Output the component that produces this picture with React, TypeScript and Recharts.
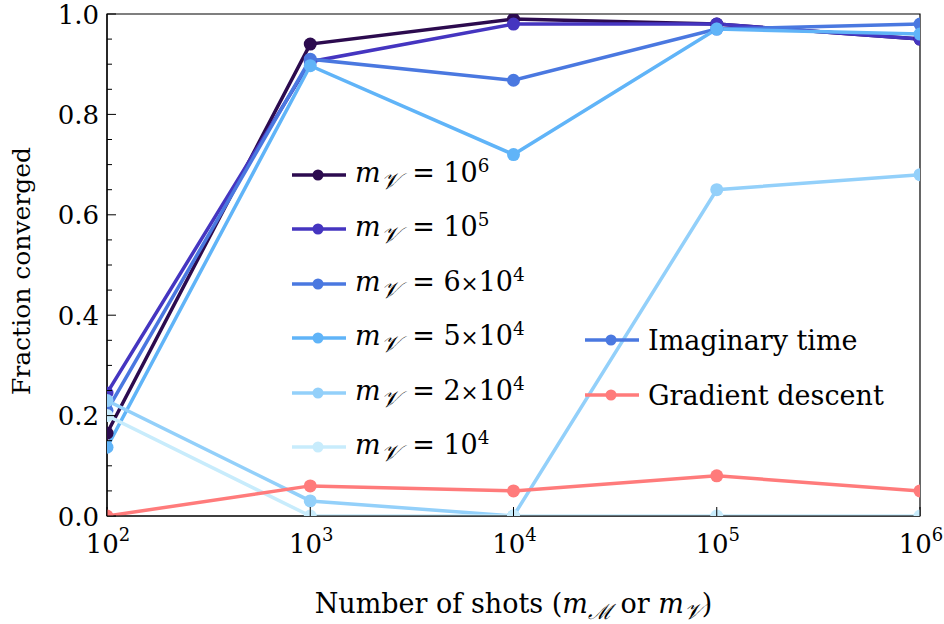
import React from "react";
import { LineChart, Line, XAxis, YAxis, ReferenceArea } from "recharts";

// shot counts on the x axis (log scale)
const SHOTS = [1e2, 1e3, 1e4, 1e5, 1e6];
const X_TICK_EXP = [2, 3, 4, 5, 6];

// fraction of runs that converged, imaginary-time evolution per m_V
const FRAC_MV_1E6 = [0.165, 0.94, 0.99, 0.98, 0.95];
const FRAC_MV_1E5 = [0.245, 0.905, 0.98, 0.98, 0.95];
const FRAC_MV_6E4 = [0.21, 0.91, 0.868, 0.97, 0.98];
const FRAC_MV_5E4 = [0.137, 0.897, 0.72, 0.97, 0.96];
const FRAC_MV_2E4 = [0.23, 0.03, 0.0, 0.65, 0.68];
const FRAC_MV_1E4 = [0.2, 0.0, 0.0, 0.0, 0.0];
// gradient descent baseline
const FRAC_GD = [0.0, 0.06, 0.05, 0.08, 0.05];

const Y_TICKS = [
  0, 0.05, 0.1, 0.15, 0.2, 0.25, 0.3, 0.35, 0.4, 0.45, 0.5,
  0.55, 0.6, 0.65, 0.7, 0.75, 0.8, 0.85, 0.9, 0.95, 1.0,
];

const MV_MANTISSA = ["", "", "6", "5", "2", ""];
const MV_EXPONENT = [6, 5, 4, 4, 4, 4];

const SERIES = [
  { key: "mv1e6", values: FRAC_MV_1E6, color: "#2c0b4f" },
  { key: "mv1e5", values: FRAC_MV_1E5, color: "#4535c0" },
  { key: "mv6e4", values: FRAC_MV_6E4, color: "#4a78e0" },
  { key: "mv5e4", values: FRAC_MV_5E4, color: "#60b4f8" },
  { key: "mv2e4", values: FRAC_MV_2E4, color: "#93d0fa" },
  { key: "mv1e4", values: FRAC_MV_1E4, color: "#c8ecfc" },
  { key: "gd", values: FRAC_GD, color: "#ff7b7b" },
];

const METHOD_LABELS = ["Imaginary time", "Gradient descent"];
const METHOD_COLORS = ["#4a78e0", "#ff7b7b"];

const data = SHOTS.map((s, i) => {
  const row: Record<string, number> = { shots: s };
  SERIES.forEach((sr) => {
    row[sr.key] = sr.values[i];
  });
  return row;
});

const FONT = '"DejaVu Serif", "Liberation Serif", serif';
const W = 944;
const H = 624;
const M = { top: 14, right: 24, left: 0, bottom: 0 };
const Y_AXIS_W = 107;
const X_AXIS_H = 108;

function XTick({ x, y, payload }: any) {
  const exp = X_TICK_EXP[SHOTS.indexOf(payload.value)];
  return (
    <g>
      <line x1={x} x2={x} y1={y} y2={y - 9} stroke="#000" strokeWidth={1} />
      <text x={x + 1} y={y + 37} textAnchor="middle" fontFamily={FONT} fontSize={26} fill="#000">
        <tspan>10</tspan>
        <tspan dy={-12} fontSize={18}>{exp}</tspan>
      </text>
    </g>
  );
}

function YTick({ x, y, payload }: any) {
  const v = payload.value as number;
  const major = Math.round(v * 100) % 20 === 0;
  return (
    <g>
      <line x1={x} x2={x + (major ? 9 : 5)} y1={y} y2={y} stroke="#000" strokeWidth={1} />
      {major && (
        <text x={x - 8} y={y + 9.5} textAnchor="end" fontFamily={FONT} fontSize={26} fill="#000">
          {v.toFixed(1)}
        </text>
      )}
    </g>
  );
}

const mV = (
  <>
    <i>m</i>
    <sub style={{ fontSize: "0.85em", verticalAlign: "-0.3em", marginRight: 4 }}>
      <i>𝒱</i>
    </sub>
  </>
);

function Swatch({ color }: { color: string }) {
  return (
    <svg width={54} height={14} style={{ flex: "none" }}>
      <line x1={0} x2={54} y1={7} y2={7} stroke={color} strokeWidth={3.5} />
      <circle cx={26} cy={7} r={5.5} fill={color} />
    </svg>
  );
}

function LegendRow({ top, left, color, children }: any) {
  return (
    <div
      style={{
        position: "absolute",
        left,
        top: top - 18,
        height: 36,
        display: "flex",
        alignItems: "center",
        gap: 9,
        fontFamily: FONT,
        fontSize: 27,
        color: "#000",
        whiteSpace: "nowrap",
      }}
    >
      <Swatch color={color} />
      <span>{children}</span>
    </div>
  );
}

export default function App() {
  return (
    <div style={{ position: "absolute", left: 0, top: 0, width: W, height: H, background: "#fff" }}>
      <LineChart width={W} height={H} data={data} margin={M}>
        <XAxis
          dataKey="shots"
          type="number"
          scale="log"
          domain={[1e2, 1e6]}
          ticks={SHOTS}
          interval={0}
          allowDataOverflow
          height={X_AXIS_H}
          tickSize={0}
          tickMargin={0}
          tickLine={false}
          axisLine={{ stroke: "#000", strokeWidth: 1.2 }}
          tick={<XTick />}
          label={{
            content: ({ viewBox }: any) => (
              <text
                x={viewBox.x + viewBox.width / 2}
                y={viewBox.y + 97}
                textAnchor="middle"
                fontFamily={FONT}
                fontSize={27}
                fill="#000"
              >
                Number of shots (<tspan fontStyle="italic">m</tspan>
                <tspan dy={6} fontSize={21} fontStyle="italic">ℳ</tspan>
                <tspan dy={-6}> or </tspan>
                <tspan fontStyle="italic">m</tspan>
                <tspan dy={6} fontSize={22} fontStyle="italic">𝒱</tspan>
                <tspan dy={-6}>)</tspan>
              </text>
            ),
          }}
        />
        <YAxis
          type="number"
          domain={[0, 1]}
          ticks={Y_TICKS}
          interval={0}
          allowDataOverflow
          width={Y_AXIS_W}
          tickSize={0}
          tickMargin={0}
          tickLine={false}
          axisLine={{ stroke: "#000", strokeWidth: 1.2 }}
          tick={<YTick />}
          label={{
            content: ({ viewBox }: any) => {
              const cy = viewBox.y + viewBox.height / 2 + 6;
              return (
                <text
                  x={30}
                  y={cy}
                  transform={`rotate(-90 30 ${cy})`}
                  textAnchor="middle"
                  fontFamily={FONT}
                  fontSize={25}
                  fill="#000"
                >
                  Fraction converged
                </text>
              );
            },
          }}
        />
        <ReferenceArea
          x1={1e2}
          x2={1e6}
          y1={0}
          y2={1}
          fill="none"
          stroke="#000"
          strokeWidth={1.2}
          ifOverflow="visible"
        />
        {SERIES.map((s) => (
          <Line
            key={s.key}
            dataKey={s.key}
            type="linear"
            stroke={s.color}
            strokeWidth={3.5}
            dot={{ r: 6.5, fill: s.color, stroke: "none" }}
            activeDot={false}
            isAnimationActive={false}
          />
        ))}
      </LineChart>

      {MV_EXPONENT.map((exp, i) => (
        <LegendRow key={i} left={292} top={175 + i * 54.4} color={SERIES[i].color}>
          {mV} = {MV_MANTISSA[i] && <>{MV_MANTISSA[i]}<span style={{ fontSize: "0.8em" }}>×</span></>}
          10<sup style={{ fontSize: "0.68em", verticalAlign: "0.55em" }}>{exp}</sup>
        </LegendRow>
      ))}
      {METHOD_LABELS.map((label, i) => (
        <LegendRow key={label} left={585} top={340 + i * 55} color={METHOD_COLORS[i]}>
          {label}
        </LegendRow>
      ))}
    </div>
  );
}
